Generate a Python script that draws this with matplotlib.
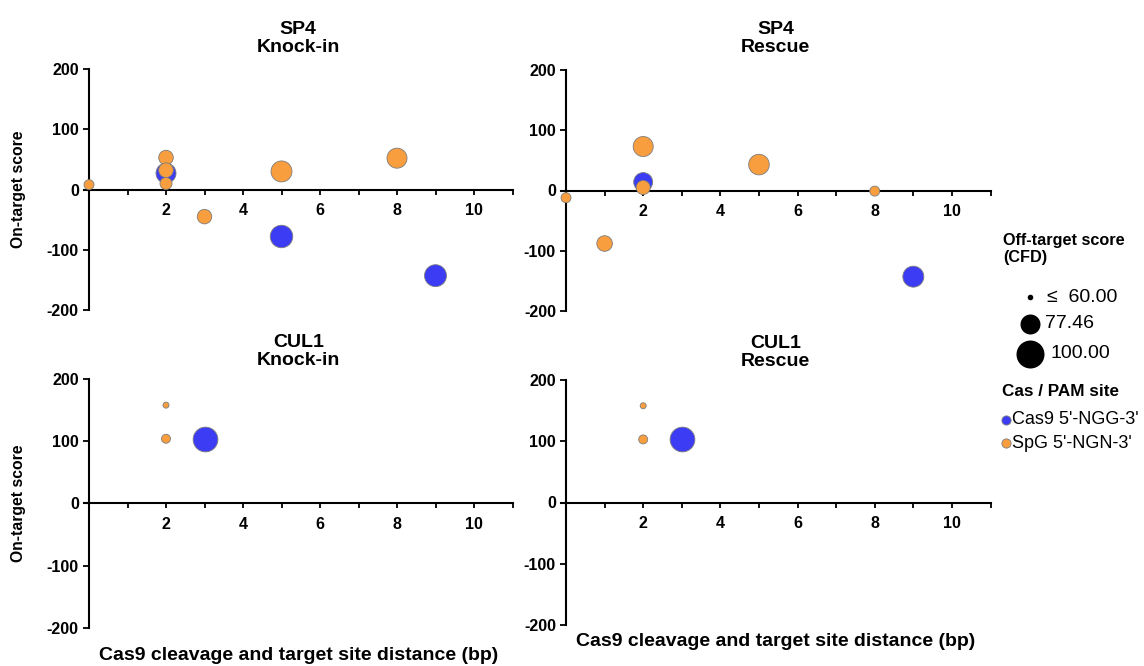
import numpy as np
import matplotlib
matplotlib.use("Agg")
import matplotlib.pyplot as plt

plt.rcParams['font.family'] = ['Liberation Sans', 'DejaVu Sans']
plt.rcParams['axes.unicode_minus'] = False

# ---------- data ----------
# SP4 knock-in
sp4_ki_cas9_x = [2, 5, 9]
sp4_ki_cas9_y = [27, -78, -143]
sp4_ki_cas9_cfd = [77.5, 84.5, 82.9]
sp4_ki_spg_x = [0, 2, 2, 2, 3, 5, 8]
sp4_ki_spg_y = [8, 53, 32, 10, -45, 30, 52]
sp4_ki_spg_cfd = [65.3, 70.9, 70.9, 67.8, 70.8, 80.2, 77.5]

# SP4 rescue
sp4_re_cas9_x = [2, 9]
sp4_re_cas9_y = [14, -143]
sp4_re_cas9_cfd = [76.2, 80.2]
sp4_re_spg_x = [0, 1, 2, 2, 5, 8]
sp4_re_spg_y = [-12, -88, 73, 5, 43, -1]
sp4_re_spg_cfd = [65.3, 72.1, 77.5, 70.2, 79.1, 65.3]

# CUL1 knock-in / rescue
cul1_ki_cas9_x = [3]
cul1_ki_cas9_y = [104]
cul1_ki_cas9_cfd = [90.9]
cul1_ki_spg_x = [2, 2]
cul1_ki_spg_y = [158, 104]
cul1_ki_spg_cfd = [60.5, 64.1]

cul1_re_cas9_x = [3]
cul1_re_cas9_y = [104]
cul1_re_cas9_cfd = [90.9]
cul1_re_spg_x = [2, 2]
cul1_re_spg_y = [158, 103]
cul1_re_spg_cfd = [60.5, 64.1]

legend_cfd = [60.0, 77.46, 100.0]
legend_cfd_labels = ["\u2264  60.00", "77.46", "100.00"]
pam_labels = ["Cas9 5'-NGG-3'", "SpG 5'-NGN-3'"]

BLUE = "#3c3cf4"
ORANGE = "#f99e3e"
EDGE = "#7d7d7d"
DPI = 100


def cfd_to_s(cfd):
    # radius (px) interpolated between the legend anchors, then to points^2
    r = np.interp(np.asarray(cfd, dtype=float), legend_cfd, [2.8, 10.0, 14.0])
    return (2 * r * 72 / DPI) ** 2


def px_to_s(r):
    return (2 * r * 72 / DPI) ** 2


W, H = 1144, 666
fig = plt.figure(figsize=(W / DPI, H / DPI), dpi=DPI)


def panel_axes(left_px, top_px, bottom_px, right_px):
    return fig.add_axes([left_px / W, 1 - bottom_px / H,
                         (right_px - left_px) / W, (bottom_px - top_px) / H])


def draw_panel(ax, title, cas9, spg, title_pad, xlabel_off=None):
    ax.scatter(cas9[0], cas9[1], s=cfd_to_s(cas9[2]), color=BLUE,
               edgecolor=EDGE, linewidth=0.6, zorder=3, clip_on=False)
    ax.scatter(spg[0], spg[1], s=cfd_to_s(spg[2]), color=ORANGE,
               edgecolor=EDGE, linewidth=0.6, zorder=4, clip_on=False)

    ax.set_xlim(-0.13, 11)
    ax.set_ylim(-200, 200)
    for side in ["top", "right"]:
        ax.spines[side].set_visible(False)
    ax.spines["left"].set_position(("data", 0))
    ax.spines["bottom"].set_position(("data", 0))
    ax.spines["left"].set_bounds(-200, 200)
    ax.spines["left"].set_linewidth(1.5)
    ax.spines["bottom"].set_linewidth(1.5)

    ax.set_xticks([2, 4, 6, 8, 10])
    ax.set_xticks([1, 3, 5, 7, 9, 11], minor=True)
    ax.set_yticks([-200, -100, 0, 100, 200])
    ax.tick_params(axis="x", which="both", direction="out", length=3.5,
                   width=1.3, pad=6, labelsize=11.5)
    ax.tick_params(axis="y", direction="out", length=4.3, width=1.3,
                   pad=3, labelsize=11.5)
    for lab in ax.get_xticklabels() + ax.get_yticklabels():
        lab.set_fontweight("bold")
    ax.patch.set_alpha(0)

    ax.set_title(title, fontsize=14, fontweight="bold", pad=title_pad,
                 linespacing=1.1)
    if xlabel_off is not None:
        ax.text(0.5, xlabel_off, "Cas9 cleavage and target site distance (bp)",
                transform=ax.transAxes, ha="center", va="center",
                fontsize=14, fontweight="bold")


ax1 = panel_axes(84, 69, 310, 512.5)
ax2 = panel_axes(561, 70, 311, 990.5)
ax3 = panel_axes(84, 379, 628, 512.5)
ax4 = panel_axes(561, 380, 625, 990.5)

draw_panel(ax1, "SP4\nKnock-in",
           (sp4_ki_cas9_x, sp4_ki_cas9_y, sp4_ki_cas9_cfd),
           (sp4_ki_spg_x, sp4_ki_spg_y, sp4_ki_spg_cfd), 12)
draw_panel(ax2, "SP4\nRescue",
           (sp4_re_cas9_x, sp4_re_cas9_y, sp4_re_cas9_cfd),
           (sp4_re_spg_x, sp4_re_spg_y, sp4_re_spg_cfd), 13)
draw_panel(ax3, "CUL1\nKnock-in",
           (cul1_ki_cas9_x, cul1_ki_cas9_y, cul1_ki_cas9_cfd),
           (cul1_ki_spg_x, cul1_ki_spg_y, cul1_ki_spg_cfd), 10,
           xlabel_off=-27 / 249)
draw_panel(ax4, "CUL1\nRescue",
           (cul1_re_cas9_x, cul1_re_cas9_y, cul1_re_cas9_cfd),
           (cul1_re_spg_x, cul1_re_spg_y, cul1_re_spg_cfd), 10,
           xlabel_off=-17 / 245)

# y labels (left column only)
for ax in (ax1, ax3):
    bb = ax.get_position()
    fig.text(19 / W, bb.y0 + bb.height / 2, "On-target score", rotation=90,
             ha="center", va="center", fontsize=11.3, fontweight="bold")

# ---------- legend, drawn on an overlay in pixel units ----------
lax = fig.add_axes([0, 0, 1, 1], zorder=-1)
lax.set_xlim(0, W)
lax.set_ylim(H, 0)
lax.axis("off")

lax.text(1003, 249, "Off-target score\n(CFD)", ha="left", va="center",
         fontsize=11.7, fontweight="bold", linespacing=1.15)
size_rows_y = [297, 324, 354]
size_text_x = [1047, 1045, 1050]
for c, lab, yy, tx in zip(legend_cfd, legend_cfd_labels, size_rows_y, size_text_x):
    lax.scatter([1030], [yy], s=cfd_to_s([c]), color="black", linewidth=0)
    lax.text(tx, yy, lab, ha="left", va="center", fontsize=14)

lax.text(1002, 392, "Cas / PAM site", ha="left", va="center",
         fontsize=12.3, fontweight="bold")
for col, lab, yy in zip([BLUE, ORANGE], pam_labels, [420, 443]):
    lax.scatter([1005.5], [yy], s=px_to_s(4.6), color=col, edgecolor=EDGE,
                linewidth=0.6)
    lax.text(1012, yy, lab, ha="left", va="center", fontsize=13)

fig.savefig("out.png", dpi=DPI, facecolor="white")
